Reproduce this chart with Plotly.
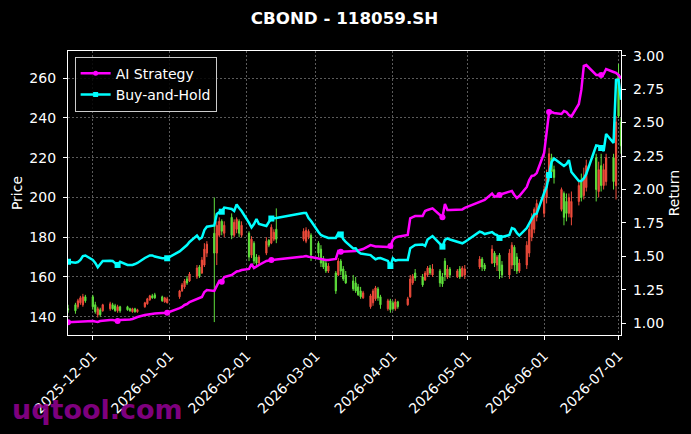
import pandas as pd
import plotly.graph_objects as go

# ---------------- data ----------------
holidays = ["2026-01-01", "2026-01-02", "2026-02-16", "2026-02-17", "2026-02-18",
            "2026-02-19", "2026-02-20", "2026-02-23", "2026-04-06", "2026-05-01",
            "2026-05-04", "2026-05-05", "2026-06-19"]
dates = [d for d in pd.bdate_range("2025-11-21", "2026-07-02")
         if d.strftime("%Y-%m-%d") not in holidays]

open_ = [
    # Nov
    144, 146, 145, 147, 146, 150,
    # Dec
    150, 146, 141, 143.5, 143, 144, 146, 145.5, 143, 145, 145, 144, 142.5, 144, 142.5,
    145, 146.5, 148.5, 150.5, 151, 150, 147.5, 147,
    # Jan
    150, 153, 155, 159, 158, 160, 165, 162, 166, 172, 182, 172, 181, 188, 182,
    190, 181, 184, 188, 181,
    # Feb
    182, 171, 177, 170, 167, 172, 178.5, 177, 179, 184, 179, 178, 180, 181,
    # Mar
    177, 174, 169, 167, 163, 162, 161, 168, 164, 161, 158, 157, 155, 153, 149.5,
    145, 147, 149, 154, 150, 144, 148,
    # Apr
    147, 144, 147.5, 146, 150, 157, 162, 160, 158.5, 161, 164.5, 161, 163, 160, 168,
    160, 164, 160, 164, 160.5, 161,
    # May
    165, 169, 166, 167, 172, 166, 171, 166, 161, 166, 175, 170, 163, 166, 172, 180, 184, 190,
    # Jun
    192, 200, 210, 220, 214, 194, 202, 198, 192, 190, 198, 208, 201, 205, 220, 203, 216,
    206, 208, 220, 206,
    # Jul
    262, 238,
]
high = [
    146, 147, 149, 150.5, 151.5, 151,
    151, 147.5, 145, 144.5, 146.5, 147.5, 147, 146.5, 146, 145.5, 145.5, 144.5, 144.5,
    144.5, 144, 147.5, 149.5, 151, 151.5, 152, 150.6, 150, 150,
    153.5, 157, 159, 160.5, 162.5, 166, 166, 170, 177, 178, 200, 188, 190, 189, 188,
    192, 189, 190, 189, 188,
    183, 180.5, 178, 171.5, 171, 180, 179, 186.5, 184, 194.5, 184.5, 185, 184, 182,
    178, 176, 170.5, 169, 167, 163, 169.5, 169, 165.5, 163, 161, 160, 156.5, 155, 153,
    151.5, 154, 155.5, 155, 151, 149, 149,
    148, 149, 148, 150, 161, 161.5, 164, 161.5, 163, 165.5, 166, 166.5, 164, 162, 169.5,
    166, 165, 164, 165.5, 165.5, 166,
    170.5, 170, 167, 176, 173, 171, 172, 168, 174, 177.5, 176, 172, 169, 178, 186, 192, 195, 199,
    206, 214, 225, 222, 216, 205, 203, 202, 202, 203, 208, 212, 215, 219, 222, 218, 222,
    217, 222, 222, 241,
    267.2, 240,
]
low = [
    142, 141.5, 144, 146, 145, 147,
    143.5, 141.5, 139.6, 140, 142.5, 143, 143.5, 142.5, 142, 142, 143, 142.5, 142, 142,
    142, 144.5, 146, 148, 149, 149, 147.5, 147, 146.7,
    149, 152.5, 154, 156, 157.5, 159, 159.5, 161.5, 165, 170, 137.3, 166, 180, 181, 180,
    179, 180, 182, 180, 180,
    168, 169.5, 166.5, 165.5, 166, 171, 175, 176.5, 178, 177, 178, 177, 179, 168,
    170, 165, 164, 162, 162, 151.5, 160.5, 161, 158, 156.5, 153, 152, 150.5, 149, 149,
    144, 145.5, 148, 148, 144, 143, 142,
    143, 143, 144, 145.5, 149.5, 156, 158, 155, 158, 160, 161, 160, 155, 155, 158,
    159, 159.5, 159.5, 159, 160, 159,
    164, 163, 163, 166.5, 165, 163, 159, 159.5, 159, 164, 163, 161.5, 162, 164, 170, 178, 182, 188,
    190, 197, 208, 210, 207, 193, 186, 188, 190, 186, 196, 198, 199, 203, 198, 200, 203,
    204, 206, 204, 199,
    240, 222,
]
close = [
    143.5, 143, 148, 149.5, 150, 148,
    145, 142.5, 144, 141, 146, 146.5, 144, 143, 145, 143, 143.5, 143, 144, 142.5, 143.5,
    147, 149, 150.5, 149.5, 149.5, 148, 149.5, 149,
    153, 156, 158, 157, 161.5, 164.5, 160.5, 168.5, 174, 176.5, 172, 186, 188, 183, 186,
    181, 187.5, 189, 182, 186,
    170, 179, 168, 167, 170, 178, 176, 185, 182.5, 179, 183, 183.5, 183, 171,
    172, 167, 165, 163, 165.5, 153, 168, 163, 159, 157, 154, 153, 151, 150, 152,
    150.5, 153, 154.5, 149.5, 146, 148, 143.5,
    144, 147.5, 145, 149, 159, 160.5, 159.5, 156, 162, 164.5, 162, 164, 157, 156.5, 161,
    164, 161, 163, 160, 164.5, 164,
    169, 165, 164, 174, 167, 170, 163, 161, 172, 176, 166, 163, 167, 176, 184, 190, 194, 197,
    204, 212, 222, 213, 210, 204, 190, 192, 200, 198, 206, 200, 210, 216, 204, 214, 206,
    214, 220, 208, 238,
    241, 226,
]
ai_strategy = [
    1.007, 1.010, 1.013, 1.013, 1.017, 1.017,
    1.017, 1.013, 1.010, 1.017, 1.020, 1.025, 1.025, 1.022, 1.017, 1.025, 1.025, 1.028,
    1.032, 1.040, 1.047, 1.062, 1.066, 1.070, 1.070, 1.073, 1.077, 1.077, 1.079,
    1.114, 1.122, 1.137, 1.144, 1.159, 1.182, 1.189, 1.197, 1.234, 1.249, 1.242, 1.286,
    1.316, 1.311, 1.346, 1.361, 1.376, 1.387, 1.391, 1.398,
    1.406, 1.443, 1.413, 1.428, 1.436, 1.466, 1.469, 1.473, 1.473, 1.477, 1.499, 1.503,
    1.498, 1.496,
    1.484, 1.478, 1.477, 1.473, 1.473, 1.481, 1.540, 1.535, 1.535, 1.535, 1.535, 1.540,
    1.544, 1.548, 1.555, 1.585, 1.578, 1.574, 1.574, 1.572, 1.570, 1.578,
    1.623, 1.641, 1.647, 1.660, 1.785, 1.794, 1.802, 1.802, 1.839, 1.847, 1.854, 1.859,
    1.809, 1.792, 1.892, 1.847, 1.847, 1.847, 1.847, 1.851, 1.862,
    1.907, 1.914, 1.922, 1.970, 1.946, 1.951, 1.959, 1.966, 1.984, 1.989, 1.959, 1.936,
    1.951, 2.019, 2.071, 2.101, 2.105, 2.123,
    2.273, 2.445, 2.579, 2.579, 2.572, 2.564, 2.587, 2.579, 2.557, 2.546, 2.639, 2.744,
    2.923, 2.930, 2.856, 2.856, 2.856, 2.863, 2.900, 2.878, 2.871,
    2.856, 2.830,
]
buy_and_hold = [
    1.460, 1.453, 1.458, 1.473, 1.503, 1.507,
    1.473, 1.451, 1.419, 1.443, 1.466, 1.468, 1.466, 1.450, 1.436, 1.460, 1.436, 1.436,
    1.436, 1.443, 1.451, 1.488, 1.499, 1.507, 1.507, 1.499, 1.486, 1.486, 1.486,
    1.537, 1.552, 1.567, 1.585, 1.608, 1.656, 1.630, 1.641, 1.697, 1.722, 1.731, 1.817,
    1.830, 1.834, 1.865, 1.854, 1.839, 1.888, 1.862, 1.839,
    1.750, 1.716, 1.742, 1.780, 1.742, 1.727, 1.757, 1.783, 1.785, 1.787, 1.824, 1.824,
    1.787, 1.765,
    1.682, 1.660, 1.652, 1.647, 1.638, 1.638, 1.673, 1.664, 1.630, 1.608, 1.559, 1.561,
    1.535, 1.522, 1.518, 1.510, 1.493, 1.478, 1.486, 1.488, 1.466, 1.428,
    1.486, 1.468, 1.473, 1.473, 1.561, 1.574, 1.585, 1.589, 1.578, 1.626, 1.641, 1.652,
    1.593, 1.573, 1.623, 1.634, 1.626, 1.611, 1.604, 1.598, 1.608,
    1.685, 1.679, 1.667, 1.682, 1.667, 1.660, 1.638, 1.645, 1.660, 1.712, 1.705, 1.675,
    1.656, 1.712, 1.742, 1.780, 1.813, 1.820,
    1.974, 2.019, 2.108, 2.206, 2.232, 2.187, 2.176, 2.190, 2.220, 2.131, 2.064, 2.064,
    2.082, 2.116, 2.329, 2.325, 2.310, 2.288, 2.415, 2.348, 2.819,
    2.820, 2.670,
]
MARK_EVERY = 14
price_ticks = [140, 160, 180, 200, 220, 240, 260]
return_ticks = [1.00, 1.25, 1.50, 1.75, 2.00, 2.25, 2.50, 2.75, 3.00]
month_ticks = ["2025-12-01", "2026-01-01", "2026-02-01", "2026-03-01", "2026-04-01",
               "2026-05-01", "2026-06-01", "2026-07-01"]

# ---------------- styling ----------------
UP = "#ee4b3b"
DOWN = "#5fe03c"
MAG = "#ff00ff"
CYA = "#00ffff"
FONT = "DejaVu Sans"
GRID = "rgba(150,150,150,0.6)"

fig = go.Figure()
fig.add_trace(go.Candlestick(
    x=dates, open=open_, high=high, low=low, close=close,
    increasing=dict(line=dict(color=UP, width=1), fillcolor=UP),
    decreasing=dict(line=dict(color=DOWN, width=1), fillcolor=DOWN),
    whiskerwidth=0, showlegend=False, hoverinfo="skip"))

mk = list(range(0, len(dates), MARK_EVERY))
for name, vals, col, sym in [("AI Strategy", ai_strategy, MAG, "circle"),
                             ("Buy-and-Hold", buy_and_hold, CYA, "square")]:
    fig.add_trace(go.Scatter(x=dates, y=vals, yaxis="y2", mode="lines",
                             line=dict(color=col, width=2.5), showlegend=False,
                             hoverinfo="skip"))
    fig.add_trace(go.Scatter(x=[dates[i] for i in mk], y=[vals[i] for i in mk],
                             yaxis="y2", mode="markers",
                             marker=dict(symbol=sym, size=6, color=col),
                             showlegend=False, hoverinfo="skip"))
    fig.add_trace(go.Scatter(x=[None], y=[None], yaxis="y2", mode="lines+markers",
                             name=name, line=dict(color=col, width=2.5),
                             marker=dict(symbol=sym, size=5, color=col)))

axis_common = dict(showline=True, linecolor="white", linewidth=1.2,
                   ticks="outside", ticklen=4, tickcolor="white", tickwidth=1.2,
                   tickfont=dict(family=FONT, size=14, color="white"),
                   zeroline=False, automargin=False)

fig.update_layout(
    width=691, height=434,
    margin=dict(l=68, r=70, t=51, b=99),
    paper_bgcolor="black", plot_bgcolor="black",
    font=dict(family=FONT, color="white", size=14),
    title=dict(text="<b>CBOND - 118059.SH</b>", x=0.5, xref="paper", xanchor="center",
               y=1 - 18 / 434, yref="container", yanchor="middle",
               font=dict(family=FONT, size=16.7, color="white")),
    xaxis=dict(type="date", range=["2025-11-21", "2026-07-02"],
               tickvals=month_ticks, tickformat="%Y-%m-%d", tickangle=-45,
               showgrid=True, gridcolor=GRID, gridwidth=0.7, griddash="2px,2px",
               mirror=True, rangeslider=dict(visible=False), ticklabelstandoff=2,
               **axis_common),
    yaxis=dict(range=[130.8, 273.7], tickvals=price_ticks,
               title=dict(text="Price", standoff=3,
                          font=dict(family=FONT, size=14, color="white")),
               showgrid=True, gridcolor=GRID, gridwidth=0.7, griddash="2px,2px",
               mirror=True, ticklabelstandoff=4, **axis_common),
    yaxis2=dict(range=[0.9126, 3.035], tickvals=return_ticks, tickformat=".2f",
                overlaying="y", side="right", showgrid=False,
                title=dict(text="Return", standoff=6,
                           font=dict(family=FONT, size=14, color="white")),
                ticklabelstandoff=4, **axis_common),
    legend=dict(x=0.012, y=0.98, xanchor="left", yanchor="top",
                bgcolor="rgba(0,0,0,0.85)", bordercolor="#cccccc", borderwidth=1,
                font=dict(family=FONT, size=14, color="white"),
                itemsizing="trace", itemwidth=30, tracegroupgap=0),
    annotations=[dict(text="<b>uqtool.com</b>", xref="paper", yref="paper",
                      x=0.0533, y=-0.264, xanchor="center", yanchor="middle",
                      showarrow=False,
                      font=dict(family=FONT, size=27, color="rgba(150,0,150,0.85)"))],
)

fig.write_html("out.html")
